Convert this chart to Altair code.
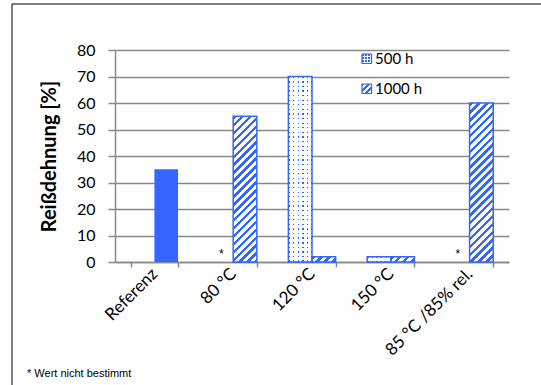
import math
import altair as alt
import pandas as pd

# ---- data -------------------------------------------------------------
categories = ["Referenz", "80 °C", "120 °C", "150 °C", "85 °C /85% rel."]
series = ["500 h", "1000 h"]
values_500h = [None, None, 70, 2, None]
values_1000h = [35, 55, 2, 2, 60]
not_measured_500h = ["80 °C", "85 °C /85% rel."]
y_ticks = [0, 10, 20, 30, 40, 50, 60, 70, 80]
footnote = "* Wert nicht bestimmt"

# ---- layout / style ---------------------------------------------------
BLUE = "#3366FF"
GRID = "#888888"
W, H = 394, 212
Y_MAX = 80
PAD_INNER = 0.4
STEP = W / len(categories)
BAR_W = STEP * (1 - PAD_INNER) / len(series)
PX_PER_UNIT = H / Y_MAX
FONT = "Lato"

rows = []
for cat, v5, v10 in zip(categories, values_500h, values_1000h):
    if v5 is not None:
        rows.append({"category": cat, "series": "500 h", "value": v5, "style": "dots", "mark": ""})
    if v10 is not None:
        style = "solid" if cat == "Referenz" else "hatch"
        rows.append({"category": cat, "series": "1000 h", "value": v10, "style": style, "mark": ""})
bars = pd.DataFrame(rows)
bars["key"] = bars["style"] + "|" + bars["value"].astype(str)

# "*" markers sit on the baseline of the missing 500 h bars
stars = pd.DataFrame({"category": not_measured_500h, "series": "500 h", "value": 0, "mark": "*"})


def _stops(period_frac, ink_frac, ink, paper):
    """Alternating hard-edged colour stops along a gradient axis."""
    stops, t = [], 0.0
    while t < 1 - 1e-9:
        b = min(t + period_frac * ink_frac, 1.0)
        c = min(t + period_frac, 1.0)
        stops += [
            {"offset": round(t, 5), "color": ink},
            {"offset": round(b, 5), "color": ink},
            {"offset": round(b, 5), "color": paper},
            {"offset": round(c, 5), "color": paper},
        ]
        t += period_frac
    return stops


def hatch_fill(w, h, period=5.6, ink=0.45):
    # upward diagonal stripes at 45 deg on screen inside a w x h box
    r = h / w
    s = (1 + r) / (1 + r * r)
    span = (w + h) / math.sqrt(2)
    return {"gradient": "linear", "x1": 0, "y1": 0, "x2": s, "y2": s * r,
            "stops": _stops(period / span, ink, BLUE, "white")}


def rows_fill(h, period=4.6, dot=1.4):
    return {"gradient": "linear", "x1": 0, "y1": 0, "x2": 0, "y2": 1,
            "stops": _stops(period / h, dot / period, BLUE, "white")}


def cols_mask(w, period=4.6, dot=1.4):
    return {"gradient": "linear", "x1": 0, "y1": 0, "x2": 1, "y2": 0,
            "stops": _stops(period / w, dot / period, "rgba(255,255,255,0)", "white")}


x_enc = alt.X(
    "category:N", sort=categories, title=None,
    scale=alt.Scale(domain=categories, paddingInner=PAD_INNER, paddingOuter=PAD_INNER / 2),
    axis=alt.Axis(labelAngle=-45, labelAlign="right", labelBaseline="middle",
                  labelPadding=4, tickBand="extent", tickSize=5, grid=False,
                  domainColor=GRID, tickColor=GRID, domainWidth=1.5, tickWidth=1.5,
                  labelFontSize=17, labelColor="black", labelOverlap=False),
)
xo_enc = alt.XOffset("series:N", sort=series,
                     scale=alt.Scale(domain=series, paddingInner=0, paddingOuter=0))
y_enc = alt.Y(
    "value:Q", scale=alt.Scale(domain=[0, Y_MAX], nice=False),
    axis=alt.Axis(values=y_ticks, title="Reißdehnung [%]", titleFontSize=20,
                  titleFontWeight="bold", titleColor="black", titlePadding=17,
                  grid=True, gridColor=GRID, gridWidth=1.5, domainColor=GRID,
                  domainWidth=1.5, tickColor=GRID, tickWidth=1.5, tickSize=7,
                  labelFontSize=16, labelColor="black", labelPadding=13,
                  labelOverlap=False),
)

base = alt.Chart(bars).encode(x=x_enc, xOffset=xo_enc, y=y_enc)

layers = [base.transform_filter(alt.datum.style == "solid").mark_bar(fill=BLUE)]

for key in bars["key"].unique():
    style, v = key.split("|")
    h = float(v) * PX_PER_UNIT
    sub = base.transform_filter(alt.datum.key == key)
    if style == "hatch":
        layers.append(sub.mark_bar(fill=hatch_fill(BAR_W, h)))
    elif style == "dots":
        layers.append(sub.mark_bar(fill=rows_fill(h)))
        layers.append(sub.mark_bar(fill=cols_mask(BAR_W)))

layers.append(
    base.transform_filter(alt.datum.style != "solid")
    .mark_bar(fill="white", fillOpacity=0, stroke=BLUE, strokeWidth=1.5)
)

layers.append(
    alt.Chart(stars).mark_text(fontSize=12, font="Liberation Sans", dy=-4,
                               baseline="alphabetic", color="black")
    .encode(x=x_enc, xOffset=xo_enc, y=y_enc, text="mark:N")
)

# legend inside the plot area
legend_fills = {
    "500 h": [rows_fill(9.5, period=3.2, dot=1.6), cols_mask(9.5, period=3.2, dot=1.6)],
    "1000 h": [hatch_fill(9.5, 9.5, period=4.2, ink=0.5)],
}
for i, name in enumerate(series):
    top = 4 + 30 * i
    one = alt.Chart(pd.DataFrame({"name": [name]}))
    for f in legend_fills[name]:
        layers.append(one.mark_rect(fill=f).encode(
            x=alt.value(247), x2=alt.value(256.5), y=alt.value(top), y2=alt.value(top + 9.5)))
    layers.append(one.mark_rect(fillOpacity=0, stroke=BLUE, strokeWidth=1.2).encode(
        x=alt.value(247), x2=alt.value(256.5), y=alt.value(top), y2=alt.value(top + 9.5)))
    layers.append(one.mark_text(align="left", baseline="middle", fontSize=15, font=FONT,
                                color="black").encode(
        x=alt.value(260), y=alt.value(top + 5), text="name:N"))

# outer frame and footnote
frame = alt.Chart(pd.DataFrame({"a": [0]}))
layers.append(frame.mark_rule(color="black", strokeWidth=1).encode(
    x=alt.value(-103), x2=alt.value(440), y=alt.value(-46)))
layers.append(frame.mark_rule(color="black", strokeWidth=1).encode(
    x=alt.value(-103), y=alt.value(-46), y2=alt.value(345)))
layers.append(alt.Chart(pd.DataFrame({"t": [footnote]})).mark_text(
    align="left", baseline="alphabetic", fontSize=11, font="Liberation Sans", color="black")
    .encode(x=alt.value(-88), y=alt.value(327), text="t:N"))

chart = (
    alt.layer(*layers)
    .properties(width=W, height=H, padding={"left": 115, "top": 50, "right": 32, "bottom": 123},
                autosize=alt.AutoSizeParams(type="none"), background="white")
    .configure_view(stroke=None)
    .configure_axis(labelFont=FONT, titleFont=FONT)
)

chart.save("out.html", embed_options={"renderer": "svg", "actions": False})
